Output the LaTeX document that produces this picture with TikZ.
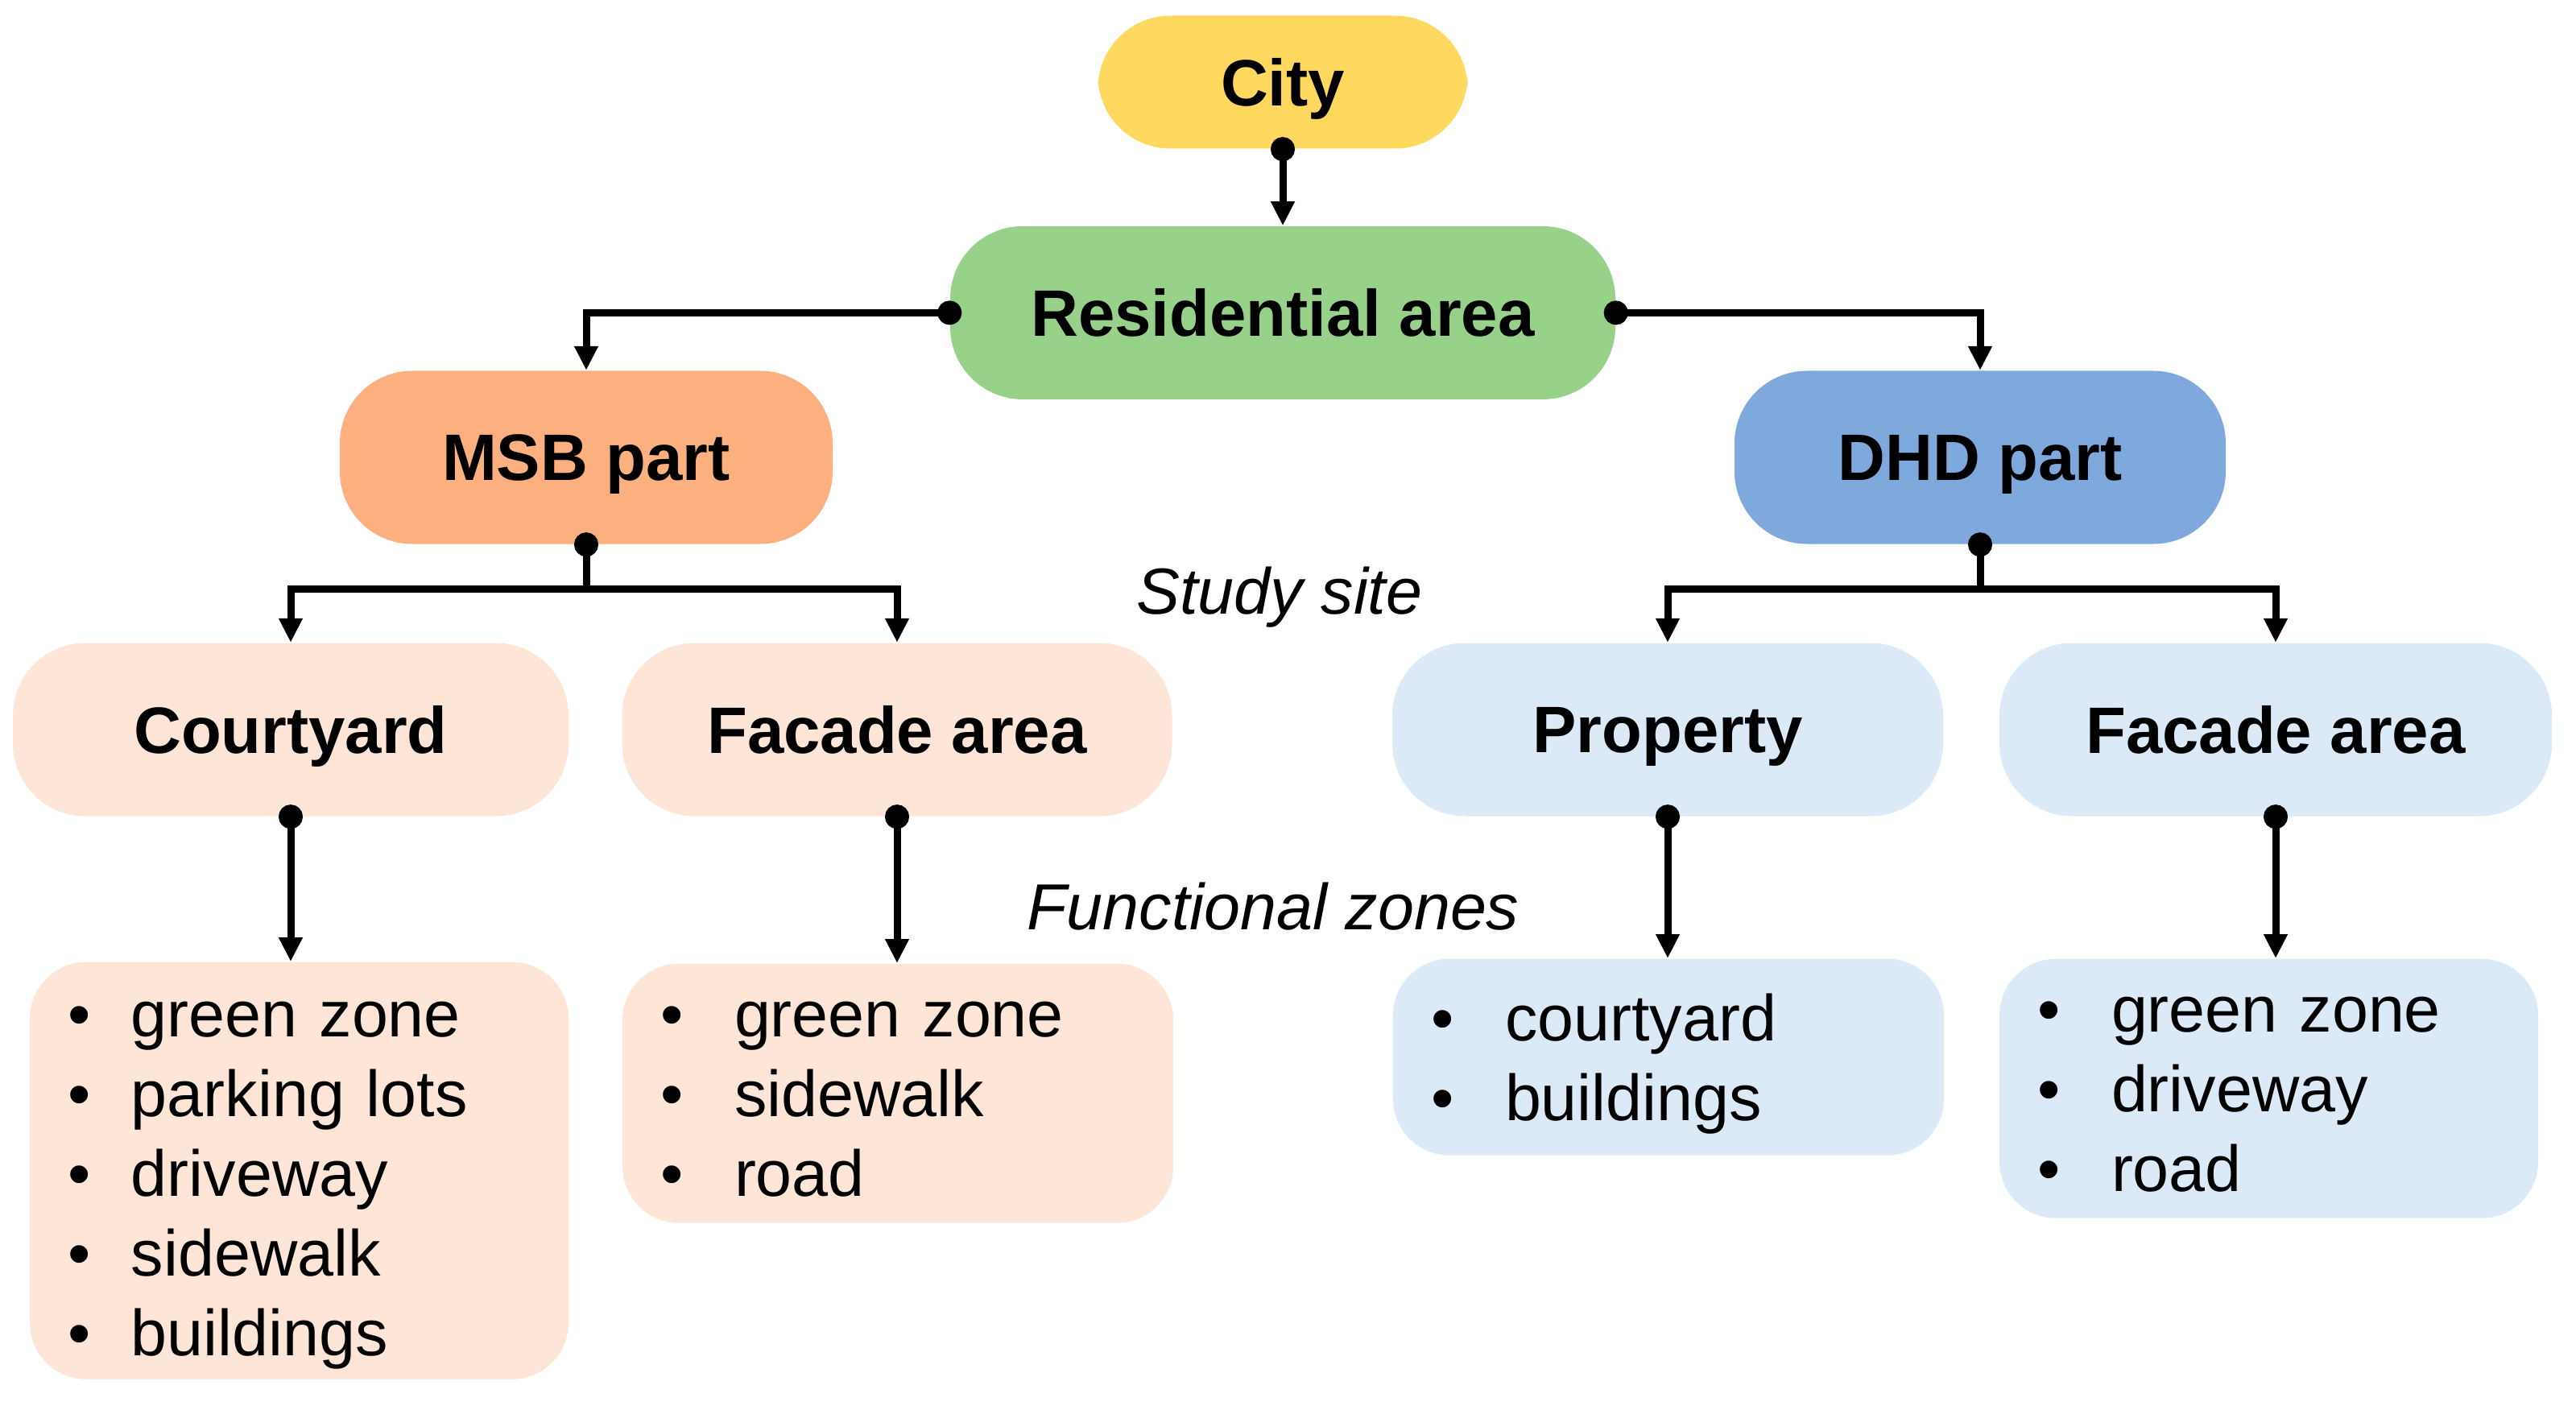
\documentclass[tikz,border=0pt]{standalone}
\usepackage{fontspec}
\setmainfont{Liberation Sans}
\usetikzlibrary{arrows.meta,positioning}
\definecolor{citycol}{HTML}{FFD95F}
\definecolor{rescol}{HTML}{98D28A}
\definecolor{msbcol}{HTML}{FDB07F}
\definecolor{dhdcol}{HTML}{7FA9DD}
\definecolor{msblight}{HTML}{FDE5D8}
\definecolor{dhdlight}{HTML}{DCEAF7}
\newlength{\zgap}
\setlength{\zgap}{0.79cm}
\newcommand{\zitem}[1]{\makebox[\zgap][l]{\textbullet}#1}
\newcommand{\zfirst}[2][0.59cm]{\rule{0pt}{#1}\zitem{#2}}

\begin{document}
\begin{tikzpicture}[>={Triangle[length=0.3cm,width=0.28cm]}]
\tikzset{head/.style={rounded corners=0.9cm,minimum height=2.15cm,text depth=0pt,font=\fontsize{23.2}{28}\selectfont\bfseries},
zones/.style={rounded corners=0.7cm,align=left,inner xsep=0.47cm,inner ysep=0pt,font=\fontsize{23}{28.2}\selectfont},
wide/.style={execute at begin node={\setlength{\zgap}{0.92cm}}},
tag/.style={font=\fontsize{23}{28}\selectfont\itshape},
wire/.style={line width=0.09cm},
link/.style={wire,{Circle[length=0.3cm]}->},
stem/.style={wire,{Circle[length=0.3cm]}-}}
\useasboundingbox (0,0) rectangle (31.99,-17.41);
\node[head,fill=citycol,minimum width=4.59cm,minimum height=1.65cm] (city) at (15.93,-1.02) {City};
\node[head,fill=rescol,minimum width=8.26cm,below=0.95cm of city] (res) {Residential area};
\node[head,fill=msbcol,minimum width=6.12cm] (msb) at (7.28,-5.68) {MSB part};
\node[head,fill=dhdcol,minimum width=6.10cm] (dhd) at (24.59,-5.68) {DHD part};
\node[head,fill=msblight,minimum width=6.90cm] (court) at (3.61,-9.06) {Courtyard};
\node[head,fill=msblight,minimum width=6.83cm] (facl) at (11.14,-9.06) {Facade area};
\node[head,fill=dhdlight,minimum width=6.84cm] (prop) at (20.71,-9.06) {Property};
\node[head,fill=dhdlight,minimum width=6.86cm] (facr) at (28.26,-9.06) {Facade area};
\node[tag] (site) at (15.89,-7.42) {Study site};
\node[tag] (fz) at (15.81,-11.26) {Functional zones};
% functional zone lists
\node[zones,fill=msblight,text width=5.75cm,minimum height=5.18cm,anchor=north] (courtz) at (3.715,-11.94)
 {\zfirst[0.80cm]{green zone}\\ \zitem{parking lots}\\ \zitem{driveway}\\ \zitem{sidewalk}\\ \zitem{buildings}};
\node[zones,wide,fill=msblight,text width=5.90cm,minimum height=3.22cm,anchor=north] (faclz) at (11.15,-11.96)
 {\zfirst{green zone}\\ \zitem{sidewalk}\\ \zitem{road}};
\node[zones,wide,fill=dhdlight,text width=5.90cm,minimum height=2.44cm,anchor=north] (propz) at (20.72,-11.90)
 {\zfirst[0.76cm]{courtyard}\\ \zitem{buildings}};
\node[zones,wide,fill=dhdlight,text width=5.75cm,minimum height=3.22cm,anchor=north] (facrz) at (28.175,-11.90)
 {\zfirst{green zone}\\ \zitem{driveway}\\ \zitem{road}};
% connectors
\draw[link] ([yshift=0.15cm]city.south) -- (res.north);
\draw[link] ([xshift=0.15cm]res.west) -| (msb.north);
\draw[link] ([xshift=-0.15cm]res.east) -| (dhd.north);
\draw[stem] ([yshift=0.15cm]msb.south) -- ++(0,-0.70) coordinate (msbj);
\draw[wire,->] (msbj) -| (court.north);
\draw[wire,->] (msbj) -| (facl.north);
\draw[stem] ([yshift=0.15cm]dhd.south) -- ++(0,-0.70) coordinate (dhdj);
\draw[wire,->] (dhdj) -| (prop.north);
\draw[wire,->] (dhdj) -| (facr.north);
\draw[link] ([yshift=0.15cm]court.south) -- (court.south |- courtz.north);
\draw[link] ([yshift=0.15cm]facl.south) -- (facl.south |- faclz.north);
\draw[link] ([yshift=0.15cm]prop.south) -- (prop.south |- propz.north);
\draw[link] ([yshift=0.15cm]facr.south) -- (facr.south |- facrz.north);
\end{tikzpicture}
\end{document}
